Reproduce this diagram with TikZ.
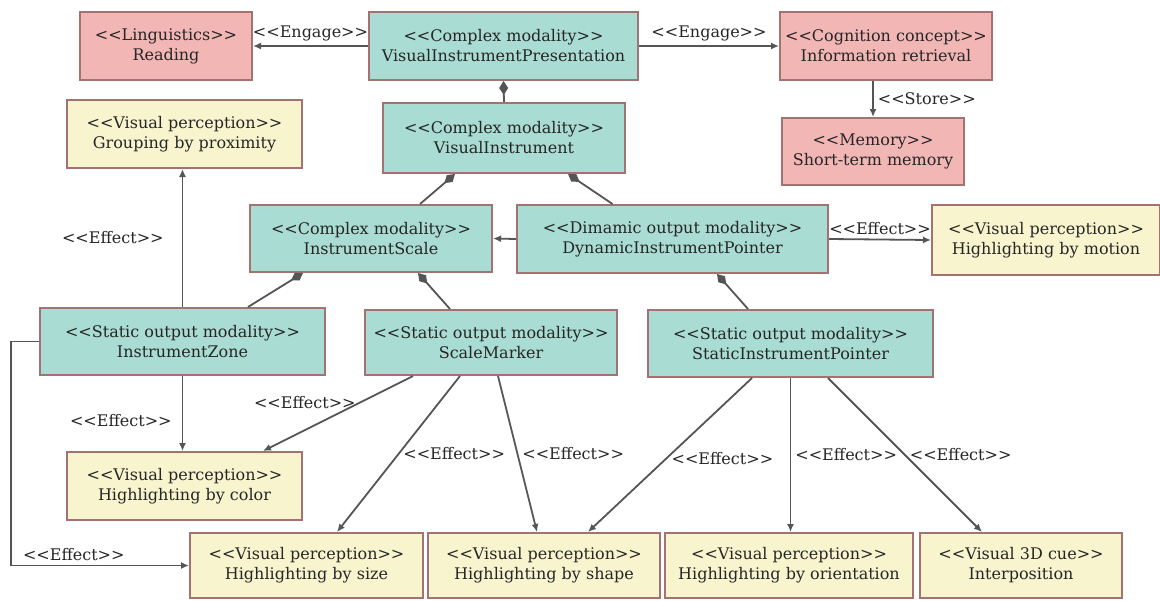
\documentclass[tikz,border=0pt]{standalone}
\usepackage{fontspec}
\setmainfont{DejaVu Serif}
\usepackage{xcolor}
\usepackage{tikz}
\usetikzlibrary{arrows.meta}

\definecolor{modfill}{HTML}{A9DCD2}
\definecolor{cogfill}{HTML}{F2B6B5}
\definecolor{percfill}{HTML}{F7F4CE}
\definecolor{boxline}{HTML}{A57272}
\definecolor{relline}{HTML}{555555}

% stereotype brackets, kept apart so they stay two signs
\newcommand{\stereo}[1]{<\kern0pt<#1>\kern0pt>}

\begin{document}
\begin{tikzpicture}[x=0.5pt,y=-0.5pt,
	box/.style={draw=boxline,line width=1pt,align=center,inner sep=0pt,
		text=black!85,font=\fontsize{8}{10}\selectfont},
	modality/.style={box,fill=modfill},
	cognition/.style={box,fill=cogfill},
	perception/.style={box,fill=percfill},
	rel/.style={draw=relline,line width=0.9pt,-{Latex[length=4pt,width=3.5pt]}},
	part/.style={draw=relline,line width=0.9pt,{Diamond[length=7pt,width=4.5pt]}-},
	lbl/.style={font=\fontsize{8}{10}\selectfont,text=black!85,inner sep=2pt}]
						\useasboundingbox (0,0) rectangle (1160,600);
						
						% upper part
						\node[cognition,minimum width=86pt,minimum height=34pt] (read) at (166,46) {\stereo{Linguistics}\\Reading};
						\node[modality,minimum width=134.5pt,minimum height=34pt] (vip) at (503.5,46) {\stereo{Complex modality}\\VisualInstrumentPresentation};
						\node[cognition,minimum width=106pt,minimum height=34pt] (info) at (886,46) {\stereo{Cognition concept}\\Information retrieval};
						\node[cognition,minimum width=91pt,minimum height=33.5pt] (stm) at (873,151.5) {\stereo{Memory}\\Short-term memory};
						\node[perception,minimum width=117.5pt,minimum height=34pt] (grp) at (184.5,134) {\stereo{Visual perception}\\Grouping by proximity};
						\node[modality,minimum width=121pt,minimum height=35pt] (vi) at (504,138) {\stereo{Complex modality}\\VisualInstrument};
						\node[modality,minimum width=121pt,minimum height=33.5pt] (iscale) at (371,238.5) {\stereo{Complex modality}\\InstrumentScale};
						\node[modality,minimum width=155.5pt,minimum height=34pt] (dip) at (672.5,239) {\stereo{Dimamic output modality}\\DynamicInstrumentPointer};
						\node[perception,minimum width=114pt,minimum height=35pt] (motion) at (1046,240) {\stereo{Visual perception}\\Highlighting by motion};
						
						% lower part
						\node[modality,minimum width=142.5pt,minimum height=33.5pt] (izone) at (182.5,341.5) {\stereo{Static output modality}\\InstrumentZone};
						\node[modality,minimum width=126pt,minimum height=32.5pt] (smark) at (491,342.5) {\stereo{Static output modality}\\ScaleMarker};
						\node[modality,minimum width=142.5pt,minimum height=33.5pt] (sip) at (790.5,343.5) {\stereo{Static output modality}\\StaticInstrumentPointer};
						\node[perception,minimum width=117.5pt,minimum height=34pt] (color) at (184.5,486) {\stereo{Visual perception}\\Highlighting by color};
						\node[perception,minimum width=116.5pt,minimum height=32.5pt] (size) at (306.5,565.5) {\stereo{Visual perception}\\Highlighting by size};
						\node[perception,minimum width=116pt,minimum height=32.5pt] (shape) at (544,565.5) {\stereo{Visual perception}\\Highlighting by shape};
						\node[perception,minimum width=124pt,minimum height=32.5pt] (orient) at (789,565.5) {\stereo{Visual perception}\\Highlighting by orientation};
						\node[perception,minimum width=101pt,minimum height=32.5pt] (interp) at (1021,565.5) {\stereo{Visual 3D cue}\\Interposition};
						
						% engage and store
						\draw[rel] (vip.west) -- node[lbl,above] {\stereo{Engage}} (read.east);
						\draw[rel] (vip.east) -- node[lbl,above] {\stereo{Engage}} (info.west);
						\draw[rel] (info.south -| stm.north) -- node[lbl,right] {\stereo{Store}} (stm.north);
						
						% parts
						\draw[part] (vip.south) -- (vi.north);
						\draw[part] ([xshift=-24.5pt]vi.south) -- ([xshift=24.5pt]iscale.north);
						\draw[part] ([xshift=32pt]vi.south) -- ([xshift=-30pt]dip.north);
						\draw[part] ([xshift=-34pt]iscale.south) -- ([xshift=32.75pt]izone.north);
						\draw[part] ([xshift=23.5pt]iscale.south) -- ([xshift=-20.5pt]smark.north);
						\draw[part] ([xshift=22.25pt]dip.south) -- ([xshift=-21.25pt]sip.north);
						\draw[rel] (dip.west) -- (iscale.east);
						
						% effects
						\draw[rel] (dip.east) -- node[lbl,above] {\stereo{Effect}} (motion.west);
						\draw[rel] (izone.north) -- node[lbl,left=7pt] {\stereo{Effect}} (izone.north |- grp.south);
						\draw[rel] (izone.south) -- node[lbl,left=3pt,pos=0.6] {\stereo{Effect}} (izone.south |- color.north);
						\draw[rel] (izone.west) -- ++(-28,0) |- node[lbl,above right,pos=0.52] {\stereo{Effect}} (size.west);
						\draw[rel] ([xshift=-39pt]smark.south) -- node[lbl,left,pos=0.35] {\stereo{Effect}} ([xshift=39.25pt]color.north);
						\draw[rel] ([xshift=-15.5pt]smark.south) -- node[lbl,right] {\stereo{Effect}} ([xshift=15.25pt]size.north);
						\draw[rel] ([xshift=3.5pt]smark.south) -- node[lbl,right] {\stereo{Effect}} ([xshift=-3.5pt]shape.north);
						\draw[rel] ([xshift=-19.25pt]sip.south) -- node[lbl,right,pos=0.52] {\stereo{Effect}} ([xshift=22pt]shape.north);
						\draw[rel] (sip.south) -- node[lbl,right] {\stereo{Effect}} (sip.south |- orient.north);
						\draw[rel] ([xshift=18.75pt]sip.south) -- node[lbl,right] {\stereo{Effect}} ([xshift=-19.5pt]interp.north);
					\end{tikzpicture}
\end{document}
